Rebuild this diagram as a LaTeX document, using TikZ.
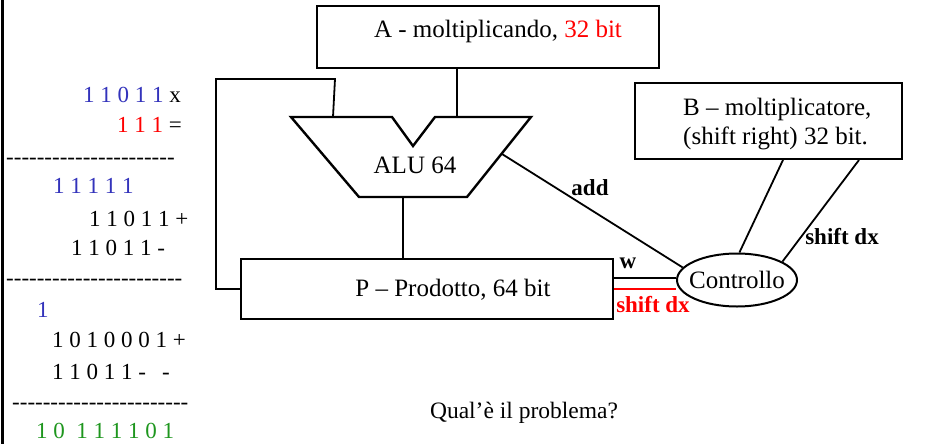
\documentclass[tikz,border=0pt]{standalone}
\usetikzlibrary{shapes.geometric}
\usepackage{fontspec}
\setmainfont{Liberation Serif}
\definecolor{digblue}{RGB}{51,51,187}
\definecolor{sumgreen}{RGB}{30,150,30}
\newcommand\hyrun[1]{\foreach \k in {1,...,#1}{\mbox{-}}}
\begin{document}
\begin{tikzpicture}[x=1pt,y=-1pt,
  box/.style={draw, line width=2pt, inner sep=0pt},
  boxtext/.style={font=\fontsize{25}{29}\selectfont, inner sep=0pt, anchor=base},
  col/.style={anchor=base west, inner sep=0pt, font=\fontsize{23}{27}\selectfont},
  wire/.style={line width=1.8pt},
  tag/.style={font=\fontsize{23}{27}\selectfont\bfseries, inner sep=0pt, anchor=base}]
\useasboundingbox (0,0) rectangle (934,444);

% left margin rule
\draw[line width=3pt] (2,0) -- (2,444);

% worked example of the binary product
\node[col] (r1) at (83,102) {\textcolor{digblue}{1 1 0 1 1} x};
\node[col] (r2) at (117,132) {\textcolor{red}{1 1 1} =};
\node[col] (d1) at (6,164) {\hyrun{22}};
\node[col] (r3) at (53,193) {\textcolor{digblue}{1 1 1 1 1}};
\node[col] (r4) at (89,226) {1 1 0 1 1 +};
\node[col] (r5) at (71,255) {1 1 0 1 1 -};
\node[col] (d2) at (6,285) {\hyrun{23}};
\node[col] (r6) at (37,317) {\textcolor{digblue}{1}};
\node[col] (r7) at (52,347) {1 0 1 0 0 0 1 +};
\node[col] (r8) at (52,379) {1 1 0 1 1 -\hspace{0.7em}-};
\node[col] (d3) at (12,409) {\hyrun{23}};
\node[col] (r9) at (36,438) {\textcolor{sumgreen}{1 0\hspace{0.5em}1 1 1 1 0 1}};

% registers
\node[box, minimum width=342pt, minimum height=62pt] (A) at (488,37) {};
\node[boxtext] (Atxt) at (498,37.5) {A - moltiplicando, \textcolor{red}{32 bit}};

\node[box, minimum width=267pt, minimum height=76pt] (B) at (768.5,121) {};
\node[boxtext, anchor=base west] (Btxt1) at (683,115) {B – moltiplicatore,};
\node[boxtext, anchor=base west] (Btxt2) at (683,144) {(shift right) 32 bit.};

\node[box, minimum width=372pt, minimum height=60pt] (P) at (427,289) {};
\node[boxtext] (Ptxt) at (453,296.7) {P – Prodotto, 64 bit};

\node[draw, line width=2pt, ellipse, minimum width=120pt, minimum height=53pt, inner sep=0pt] (ctrl) at (737,280) {};
\node[boxtext] (ctrltxt) at (737,288) {Controllo};

% ALU outline
\coordinate (alutl) at (291,117);
\coordinate (alun1) at (392,117);
\coordinate (alunb) at (413,146);
\coordinate (alun2) at (435,117);
\coordinate (alutr) at (531,117);
\coordinate (alubr) at (467,197);
\coordinate (alubl) at (359,197);
\draw[line width=2.4pt, line join=miter]
  (alutl) -- (alun1) -- (alunb) -- (alun2) -- (alutr) -- (alubr) -- (alubl) -- cycle;
\node[boxtext] (alu) at (415,173) {ALU 64};

\coordinate (aluinA) at (333,117);
\coordinate (aluinB) at (457,117);
\coordinate (aluout) at (403,197);
\coordinate (aluadd) at (502,154);
\coordinate (fbtop) at (216,79);

% data paths
\draw[wire] (A.south -| aluinB) -- (aluinB);
\draw[wire] (P.west) -| (fbtop) -- (335,79) -- (aluinA);
\draw[wire] (aluout) -- (P.north -| aluout);

% control signals
\draw[wire] (aluadd) -- (ctrl.167);
\node[tag] (addlbl) at (590,195) {add};
\draw[wire] ([yshift=11pt]P.east) -- ([yshift=2pt]ctrl.west);
\node[tag] (wlbl) at (628,268) {w};
\draw[wire, red] (P.east) -- (ctrl.west |- P.east);
\node[tag, text=red] (shlbl) at (653,312) {shift dx};
\draw[wire] ([xshift=14.5pt]B.south) -- (ctrl.85);
\draw[wire] ([xshift=90.5pt]B.south) -- (ctrl.22);
\node[tag] (shBlbl) at (842,244) {shift dx};

\node[boxtext, font=\fontsize{23.5}{27}\selectfont] (question) at (524,418) {Qual’è il problema?};
\end{tikzpicture}
\end{document}
